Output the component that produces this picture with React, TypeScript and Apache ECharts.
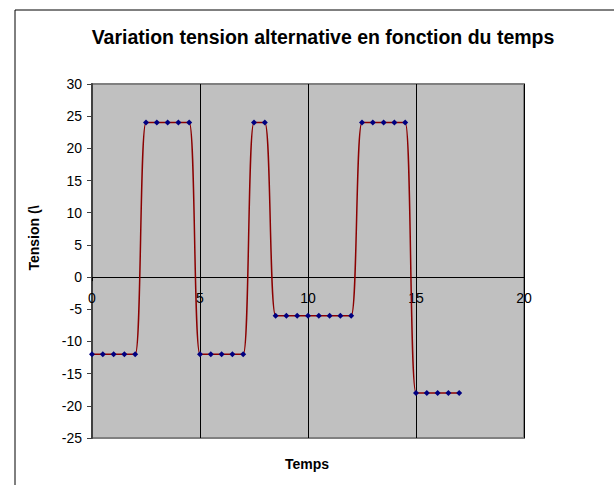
import React, { useEffect, useRef } from "react";
import * as echarts from "echarts";

const TITLE = "Variation tension alternative en fonction du temps";
const X_NAME = "Temps";
const Y_NAME = "Tension (\\";
const times = [0, 0.5, 1, 1.5, 2, 2.5, 3, 3.5, 4, 4.5, 5, 5.5, 6, 6.5, 7, 7.5, 8, 8.5, 9, 9.5, 10, 10.5, 11, 11.5, 12, 12.5, 13, 13.5, 14, 14.5, 15, 15.5, 16, 16.5, 17];
const tension = [-12, -12, -12, -12, -12, 24, 24, 24, 24, 24, -12, -12, -12, -12, -12, 24, 24, -6, -6, -6, -6, -6, -6, -6, -6, 24, 24, 24, 24, 24, -18, -18, -18, -18, -18];
const Y_MIN = -25;
const Y_MAX = 30;

const FONT = "'Liberation Sans', Arial, sans-serif";

export default function App() {
  const ref = useRef<HTMLDivElement>(null);
  useEffect(() => {
    if (!ref.current) return;
    const chart = echarts.init(ref.current, undefined, { renderer: "svg" });
    const gridTop = 84;
    const gridBottom = 47;
    const gridH = 485 - gridTop - gridBottom;
    const zeroOffset = -(gridH * (0 - Y_MIN)) / (Y_MAX - Y_MIN);
    chart.setOption({
      animation: false,
      backgroundColor: "#ffffff",
      title: {
        text: TITLE,
        left: 318,
        textAlign: "center",
        top: 22,
        textStyle: { fontFamily: FONT, fontSize: 19.5, fontWeight: "bold", color: "#000" },
      },
      graphic: [
        {
          type: "rect",
          shape: { x: 15, y: 10, width: 700, height: 600 },
          style: { fill: "none", stroke: "#000", lineWidth: 1 },
          silent: true,
        },
        {
          type: "text",
          x: 307,
          y: 464,
          style: { text: X_NAME, fontFamily: FONT, fontSize: 14, fontWeight: "bold", fill: "#000", align: "center", verticalAlign: "middle" },
        },
        {
          type: "text",
          x: 34,
          y: 238,
          rotation: Math.PI / 2,
          style: { text: Y_NAME, fontFamily: FONT, fontSize: 14, fontWeight: "bold", fill: "#000", align: "center", verticalAlign: "middle" },
        },
      ],
      grid: {
        left: 92,
        top: gridTop,
        right: 90,
        bottom: gridBottom,
        show: true,
        backgroundColor: "#c0c0c0",
        borderColor: "#808080",
        borderWidth: 2,
      },
      xAxis: {
        type: "value",
        min: 0,
        max: 20,
        interval: 5,
        offset: zeroOffset,
        axisLine: { show: true, onZero: false, lineStyle: { color: "#000", width: 1 } },
        axisTick: { show: true, length: 4, lineStyle: { color: "#000" } },
        axisLabel: { color: "#000", fontFamily: FONT, fontSize: 14, margin: 14 },
        splitLine: { show: true, lineStyle: { color: "#000", width: 1 } },
      },
      yAxis: {
        type: "value",
        min: Y_MIN,
        max: Y_MAX,
        interval: 5,
        axisLine: { show: true, onZero: false, lineStyle: { color: "#404040", width: 2 } },
        axisTick: { show: true, length: 5, lineStyle: { color: "#404040" } },
        axisLabel: { color: "#000", fontFamily: FONT, fontSize: 14, margin: 10 },
        splitLine: { show: false },
      },
      series: [
        {
          type: "line",
          data: times.map((t, i) => [t, tension[i]]),
          smooth: 0.3,
          symbol: "diamond",
          symbolSize: 6,
          itemStyle: { color: "#000080" },
          lineStyle: { color: "#8b0000", width: 1.5 },
          z: 3,
        },
      ],
    });
    return () => chart.dispose();
  }, []);
  return <div ref={ref} style={{ position: "fixed", left: 0, top: 0, width: 614, height: 485 }} />;
}
